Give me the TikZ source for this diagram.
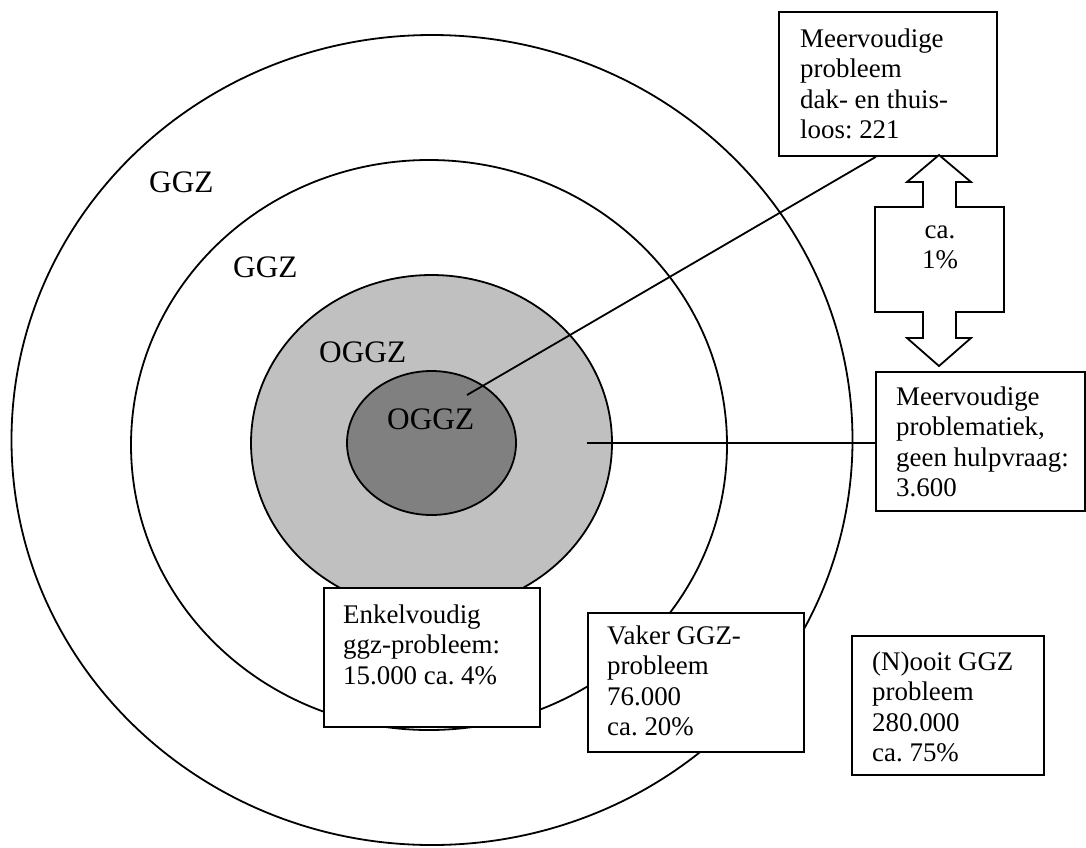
\documentclass[tikz,border=0pt]{standalone}
\usepackage{fontspec}
\setmainfont{Liberation Serif}
\frenchspacing
\definecolor{lightgrey}{HTML}{C0C0C0}
\definecolor{darkgrey}{HTML}{808080}
\begin{document}
\begin{tikzpicture}[x=1pt,y=-1pt,
  ring/.style={draw=black, line width=1.8pt},
  box/.style={draw=black, fill=white, line width=1.8pt, inner sep=0pt, anchor=north west},
  txt/.style={anchor=north west, inner sep=0pt, align=left, font=\fontsize{26.9}{30.4}\selectfont},
  ctxt/.style={anchor=north, inner sep=0pt, align=center, font=\fontsize{26.9}{30.4}\selectfont},
  lbl/.style={anchor=base west, inner sep=0pt, font=\fontsize{31.3}{36}\selectfont},
  conn/.style={draw=black, line width=1.8pt},
]
\newcommand{\fl}{\rule{0pt}{20pt}}
\useasboundingbox (0,0) rectangle (1086,847);
\fill[white] (0,0) rectangle (1086,847);

% rings
\draw[ring, fill=white] (432,440) ellipse [x radius=420.5, y radius=405];
\draw[ring, fill=white] (429,445) ellipse [x radius=298, y radius=285];
\draw[ring, fill=lightgrey] (431.5,443) ellipse [x radius=180.5, y radius=168];
\draw[ring, fill=darkgrey] (431.5,443) ellipse [x radius=84.5, y radius=72];

% ring labels
\node[lbl] (g1) at (149,192) {GGZ};
\node[lbl] (g2) at (233,277) {GGZ};
\node[lbl] (o1) at (319,362) {OGGZ};
\node[lbl] (o2) at (387,429) {OGGZ};

% boxes
\node[box, minimum width=218pt, minimum height=144pt] (b1) at (778,11) {};
\node[txt] (t1) at (800,27) {\fl Meervoudige\\probleem\\dak- en thuis-\\loos: 221};

\node[box, minimum width=209pt, minimum height=139pt] (b3) at (875,371) {};
\node[txt] (t3) at (896,385) {\fl Meervoudige\\problematiek,\\geen hulpvraag:\\3.600};

\node[box, minimum width=216pt, minimum height=139pt] (b5) at (587,612) {};
\node[txt] (t5) at (607,624) {\fl Vaker GGZ-\\probleem\\76.000\\ca. 20\%};

\node[box, minimum width=192pt, minimum height=139pt] (b6) at (851,635) {};
\node[txt] (t6) at (872,650) {\fl (N)ooit GGZ\\probleem\\280.000\\ca. 75\%};

% connectors
\coordinate (p1) at (467,395);
\coordinate (p2) at (587,443);
\draw[conn] ([xshift=-12pt]b1.south) -- (p1);
\draw[conn] (p2) -- (p2 -| b3.west);

% enkelvoudig box (over grey ring)
\node[box, minimum width=216pt, minimum height=139pt] (b4) at (323,587) {};
\node[txt] (t4) at (343,603) {\fl Enkelvoudig\\ggz-probleem:\\15.000 ca. 4\%};

% up-down arrow callout
\draw[conn, fill=white] (939,155) -- (971,182) -- (956,182) -- (956,207) -- (1004,207)
  -- (1004,312) -- (956,312) -- (956,338) -- (971,338) -- (939,366) -- (907,338)
  -- (923,338) -- (923,312) -- (875,312) -- (875,207) -- (923,207) -- (923,182)
  -- (907,182) -- cycle;
\node[ctxt] (t2) at (940,218) {\fl ca.\\1\%};
\end{tikzpicture}
\end{document}
